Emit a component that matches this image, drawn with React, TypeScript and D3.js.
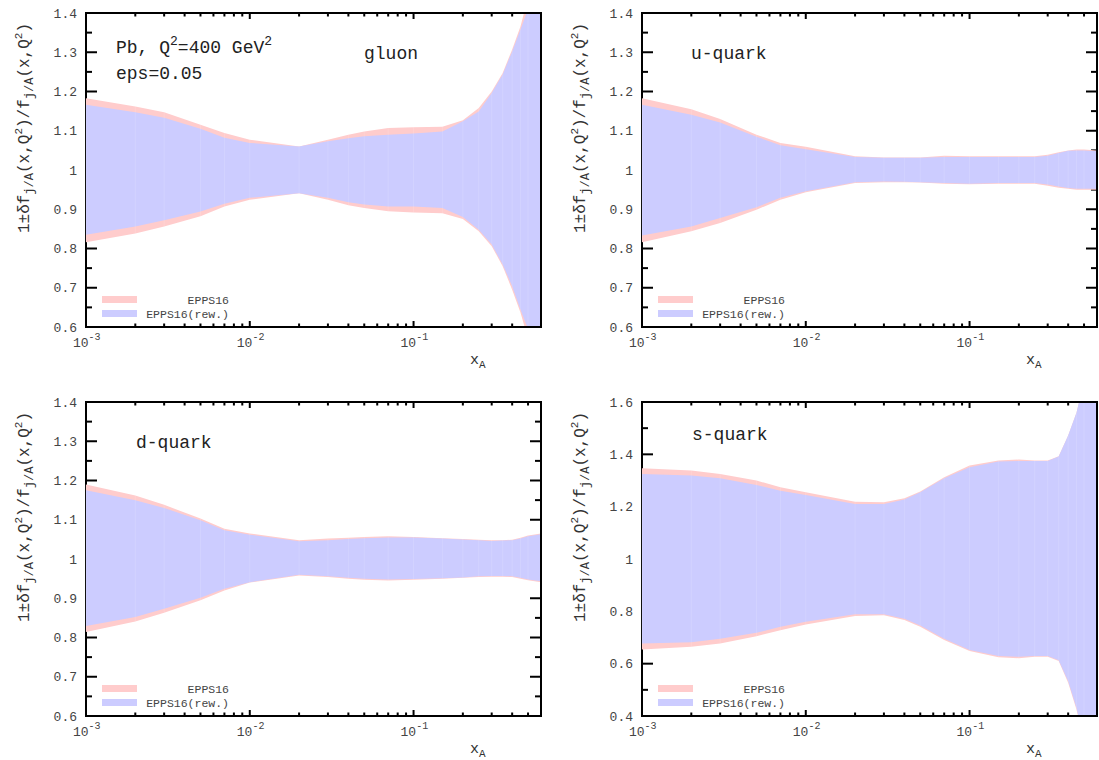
import * as d3 from "d3";

// x grid shared by all four panels
const xs = [0.001, 0.002, 0.003, 0.005, 0.007, 0.01, 0.02, 0.03, 0.04, 0.05, 0.07, 0.1, 0.15, 0.2, 0.25, 0.3, 0.35, 0.4, 0.45, 0.5, 0.6];

// gluon
const gluonHi = [1.183, 1.162, 1.147, 1.115, 1.094, 1.077, 1.06, 1.077, 1.09, 1.098, 1.107, 1.109, 1.11, 1.127, 1.158, 1.2, 1.247, 1.307, 1.366, 1.44, 1.55];
const gluonLo = [0.816, 0.838, 0.856, 0.882, 0.907, 0.924, 0.941, 0.924, 0.91, 0.903, 0.895, 0.892, 0.89, 0.875, 0.844, 0.806, 0.755, 0.695, 0.636, 0.57, 0.45];
const gluonRewHi = [1.166, 1.147, 1.133, 1.105, 1.082, 1.069, 1.06, 1.073, 1.081, 1.086, 1.09, 1.093, 1.098, 1.124, 1.149, 1.196, 1.243, 1.302, 1.358, 1.41, 1.55];
const gluonRewLo = [0.835, 0.856, 0.872, 0.894, 0.914, 0.929, 0.941, 0.929, 0.918, 0.912, 0.907, 0.907, 0.903, 0.88, 0.848, 0.81, 0.759, 0.704, 0.644, 0.595, 0.45];

// u-quark
const uHi = [1.183, 1.155, 1.13, 1.09, 1.069, 1.059, 1.035, 1.032, 1.032, 1.032, 1.036, 1.035, 1.035, 1.035, 1.035, 1.039, 1.045, 1.05, 1.052, 1.052, 1.05];
const uLo = [0.816, 0.844, 0.865, 0.899, 0.924, 0.943, 0.967, 0.969, 0.969, 0.968, 0.965, 0.964, 0.965, 0.965, 0.965, 0.96, 0.955, 0.952, 0.95, 0.95, 0.95];
const uRewHi = [1.166, 1.141, 1.121, 1.085, 1.063, 1.053, 1.033, 1.031, 1.031, 1.031, 1.033, 1.033, 1.033, 1.033, 1.033, 1.036, 1.043, 1.049, 1.05, 1.05, 1.048];
const uRewLo = [0.833, 0.856, 0.878, 0.905, 0.929, 0.946, 0.969, 0.971, 0.97, 0.969, 0.967, 0.965, 0.967, 0.967, 0.967, 0.963, 0.958, 0.954, 0.952, 0.952, 0.952];

// d-quark
const dHi = [1.19, 1.162, 1.138, 1.103, 1.077, 1.065, 1.048, 1.052, 1.054, 1.056, 1.058, 1.056, 1.053, 1.051, 1.049, 1.048, 1.048, 1.049, 1.054, 1.06, 1.065];
const dLo = [0.814, 0.841, 0.863, 0.895, 0.92, 0.94, 0.958, 0.954, 0.95, 0.947, 0.945, 0.947, 0.95, 0.952, 0.954, 0.955, 0.955, 0.954, 0.95, 0.946, 0.941];
const dRewHi = [1.175, 1.15, 1.13, 1.099, 1.073, 1.062, 1.045, 1.048, 1.051, 1.053, 1.055, 1.055, 1.052, 1.05, 1.048, 1.046, 1.047, 1.048, 1.052, 1.058, 1.063];
const dRewLo = [0.829, 0.852, 0.873, 0.901, 0.924, 0.941, 0.96, 0.956, 0.952, 0.95, 0.948, 0.949, 0.951, 0.953, 0.956, 0.957, 0.957, 0.956, 0.952, 0.948, 0.943];

// s-quark
const sHi = [1.347, 1.338, 1.325, 1.3, 1.274, 1.255, 1.219, 1.217, 1.232, 1.258, 1.312, 1.357, 1.376, 1.38, 1.376, 1.376, 1.393, 1.472, 1.56, 1.68, 1.9];
const sLo = [0.654, 0.665, 0.677, 0.705, 0.728, 0.75, 0.782, 0.785, 0.767, 0.741, 0.69, 0.648, 0.625, 0.621, 0.626, 0.626, 0.61, 0.527, 0.424, 0.3, 0.1];
const sRewHi = [1.325, 1.319, 1.309, 1.283, 1.261, 1.245, 1.21, 1.21, 1.227, 1.255, 1.309, 1.351, 1.373, 1.375, 1.375, 1.375, 1.392, 1.472, 1.56, 1.68, 1.9];
const sRewLo = [0.677, 0.682, 0.695, 0.718, 0.741, 0.76, 0.789, 0.789, 0.772, 0.746, 0.695, 0.652, 0.629, 0.626, 0.629, 0.629, 0.613, 0.533, 0.431, 0.3, 0.1];

const yTicksA = [0.6, 0.7, 0.8, 0.9, 1, 1.1, 1.2, 1.3, 1.4];
const yTicksS = [0.4, 0.6, 0.8, 1, 1.2, 1.4, 1.6];
const xMajor = [1e-3, 1e-2, 1e-1];
const xExp = ["-3", "-2", "-1"];

const PINK = "#ffcccc";
const BLUE = "#ccccff";
const FONT = "'Liberation Mono', 'DejaVu Sans Mono', monospace";

function Panel({ id, left, top, hi, lo, rhi, rlo, yTicks, yDomain, title, titleX, titleY, extra }) {
  const W = 455, H = 314;
  const x = d3.scaleLog().domain([0.001, 0.6]).range([left, left + W]);
  const y = d3.scaleLinear().domain(yDomain).range([top + H, top]);
  const step = yTicks[1] - yTicks[0];
  const yMinor = yTicks.slice(0, -1).map((v) => v + step / 2);
  const xMinor = [];
  for (const dec of [1e-3, 1e-2, 1e-1]) for (let k = 2; k <= 9; k++) if (dec * k < 0.6) xMinor.push(dec * k);

  const area = (a, b) =>
    d3.area().x((_, i) => x(xs[i])).y0((_, i) => y(b[i])).y1((d) => y(d))(a);

  const fmt = (v) => (v === 1 ? "1" : d3.format(".1f")(v));
  const bot = top + H;

  return (
    <g>
      <defs>
        <clipPath id={id}>
          <rect x={left - 1.5} y={top} width={W + 1.5} height={H} />
        </clipPath>
      </defs>
      {/* ticks under the bands */}
      <g stroke="#000" strokeWidth={2}>
        {yTicks.map((v) => (
          <g key={"y" + v}>
            <line x1={left} x2={left + 11} y1={y(v)} y2={y(v)} />
            <line x1={left + W} x2={left + W - 11} y1={y(v)} y2={y(v)} />
          </g>
        ))}
        {yMinor.map((v) => (
          <g key={"ym" + v}>
            <line x1={left} x2={left + 6} y1={y(v)} y2={y(v)} />
            <line x1={left + W} x2={left + W - 6} y1={y(v)} y2={y(v)} />
          </g>
        ))}
        {xMajor.map((v) => (
          <g key={"x" + v}>
            <line x1={x(v)} x2={x(v)} y1={bot} y2={bot - 6} />
            <line x1={x(v)} x2={x(v)} y1={top} y2={top + 6} />
          </g>
        ))}
        {xMinor.map((v) => (
          <g key={"xm" + v}>
            <line x1={x(v)} x2={x(v)} y1={bot} y2={bot - 3.5} />
            <line x1={x(v)} x2={x(v)} y1={top} y2={top + 3.5} />
          </g>
        ))}
        <line x1={left} x2={left} y1={top} y2={bot} />
      </g>
      <g clipPath={`url(#${id})`}>
        <path d={area(hi, lo)} fill={PINK} />
        <path d={area(rhi, rlo)} fill={BLUE} />
        {xs.map((v, i) => (
          <line key={i} x1={x(v)} x2={x(v)} y1={y(hi[i])} y2={y(lo[i])} stroke="#fff" strokeOpacity={0.13} strokeWidth={1} />
        ))}
      </g>
      <g stroke="#000" strokeWidth={2} fill="none">
        <line x1={left - 1} x2={left + W + 1} y1={top} y2={top} />
        <line x1={left - 1} x2={left + W + 1} y1={bot} y2={bot} />
        <line x1={left + W} x2={left + W} y1={top} y2={bot} />
      </g>
      {/* y tick labels */}
      <g fontFamily={FONT} fontSize={13} fill="#444" textAnchor="end">
        {yTicks.map((v) => (
          <text key={v} x={left - 9} y={y(v) + 4.5}>{fmt(v)}</text>
        ))}
      </g>
      {/* x tick labels */}
      <g fontFamily={FONT} fill="#444">
        {xMajor.map((v, i) => (
          <text key={v} x={x(v) - 13} y={bot + 20} fontSize={13}>
            10<tspan fontSize={10} dy={-7}>{xExp[i]}</tspan>
          </text>
        ))}
      </g>
      <text x={left + 384} y={bot + 37} fontFamily={FONT} fontSize={15} fill="#333">
        x<tspan fontSize={11} dy={4}>A</tspan>
      </text>
      {/* y axis title */}
      <text transform={`translate(${left - 57},${top + 115}) rotate(-90)`} fontFamily={FONT} fontSize={16} fill="#333" textAnchor="middle">
        1±δf<tspan fontSize={12} dy={4}>j/A</tspan>
        <tspan dy={-4}>(x,Q</tspan>
        <tspan fontSize={11} dy={-7}>2</tspan>
        <tspan dy={7}>)/f</tspan>
        <tspan fontSize={12} dy={4}>j/A</tspan>
        <tspan dy={-4}>(x,Q</tspan>
        <tspan fontSize={11} dy={-7}>2</tspan>
        <tspan dy={7}>)</tspan>
      </text>
      {/* title */}
      <text x={titleX} y={titleY} fontFamily={FONT} fontSize={18} fill="#222">{title}</text>
      {extra}
      {/* legend */}
      <rect x={left + 16} y={bot - 31} width={35} height={7} fill={PINK} />
      <rect x={left + 16} y={bot - 17} width={35} height={7} fill={BLUE} />
      <g fontFamily={FONT} fontSize={11.5} fill="#444" textAnchor="end">
        <text x={left + 143} y={bot - 23}>EPPS16</text>
        <text x={left + 143} y={bot - 9}>EPPS16(rew.)</text>
      </g>
    </g>
  );
}

export default function App() {
  return (
    <svg width={1099} height={760} style={{ position: "absolute", left: 0, top: 0, background: "#fff" }}>
      <Panel
        id="cg" left={86} top={13} hi={gluonHi} lo={gluonLo} rhi={gluonRewHi} rlo={gluonRewLo}
        yTicks={yTicksA} yDomain={[0.6, 1.4]} title="gluon" titleX={364} titleY={59}
        extra={
          <g fontFamily={FONT} fontSize={18} fill="#222">
            <text x={116} y={53}>
              Pb, Q<tspan fontSize={13} dy={-8}>2</tspan>
              <tspan dy={8}>=400 GeV</tspan>
              <tspan fontSize={13} dy={-8}>2</tspan>
            </text>
            <text x={116} y={79}>eps=0.05</text>
          </g>
        }
      />
      <Panel
        id="cu" left={642} top={13} hi={uHi} lo={uLo} rhi={uRewHi} rlo={uRewLo}
        yTicks={yTicksA} yDomain={[0.6, 1.4]} title="u-quark" titleX={691} titleY={59}
      />
      <Panel
        id="cd" left={86} top={402} hi={dHi} lo={dLo} rhi={dRewHi} rlo={dRewLo}
        yTicks={yTicksA} yDomain={[0.6, 1.4]} title="d-quark" titleX={136} titleY={448}
      />
      <Panel
        id="cs" left={642} top={402} hi={sHi} lo={sLo} rhi={sRewHi} rlo={sRewLo}
        yTicks={yTicksS} yDomain={[0.4, 1.6]} title="s-quark" titleX={692} titleY={440}
      />
    </svg>
  );
}
